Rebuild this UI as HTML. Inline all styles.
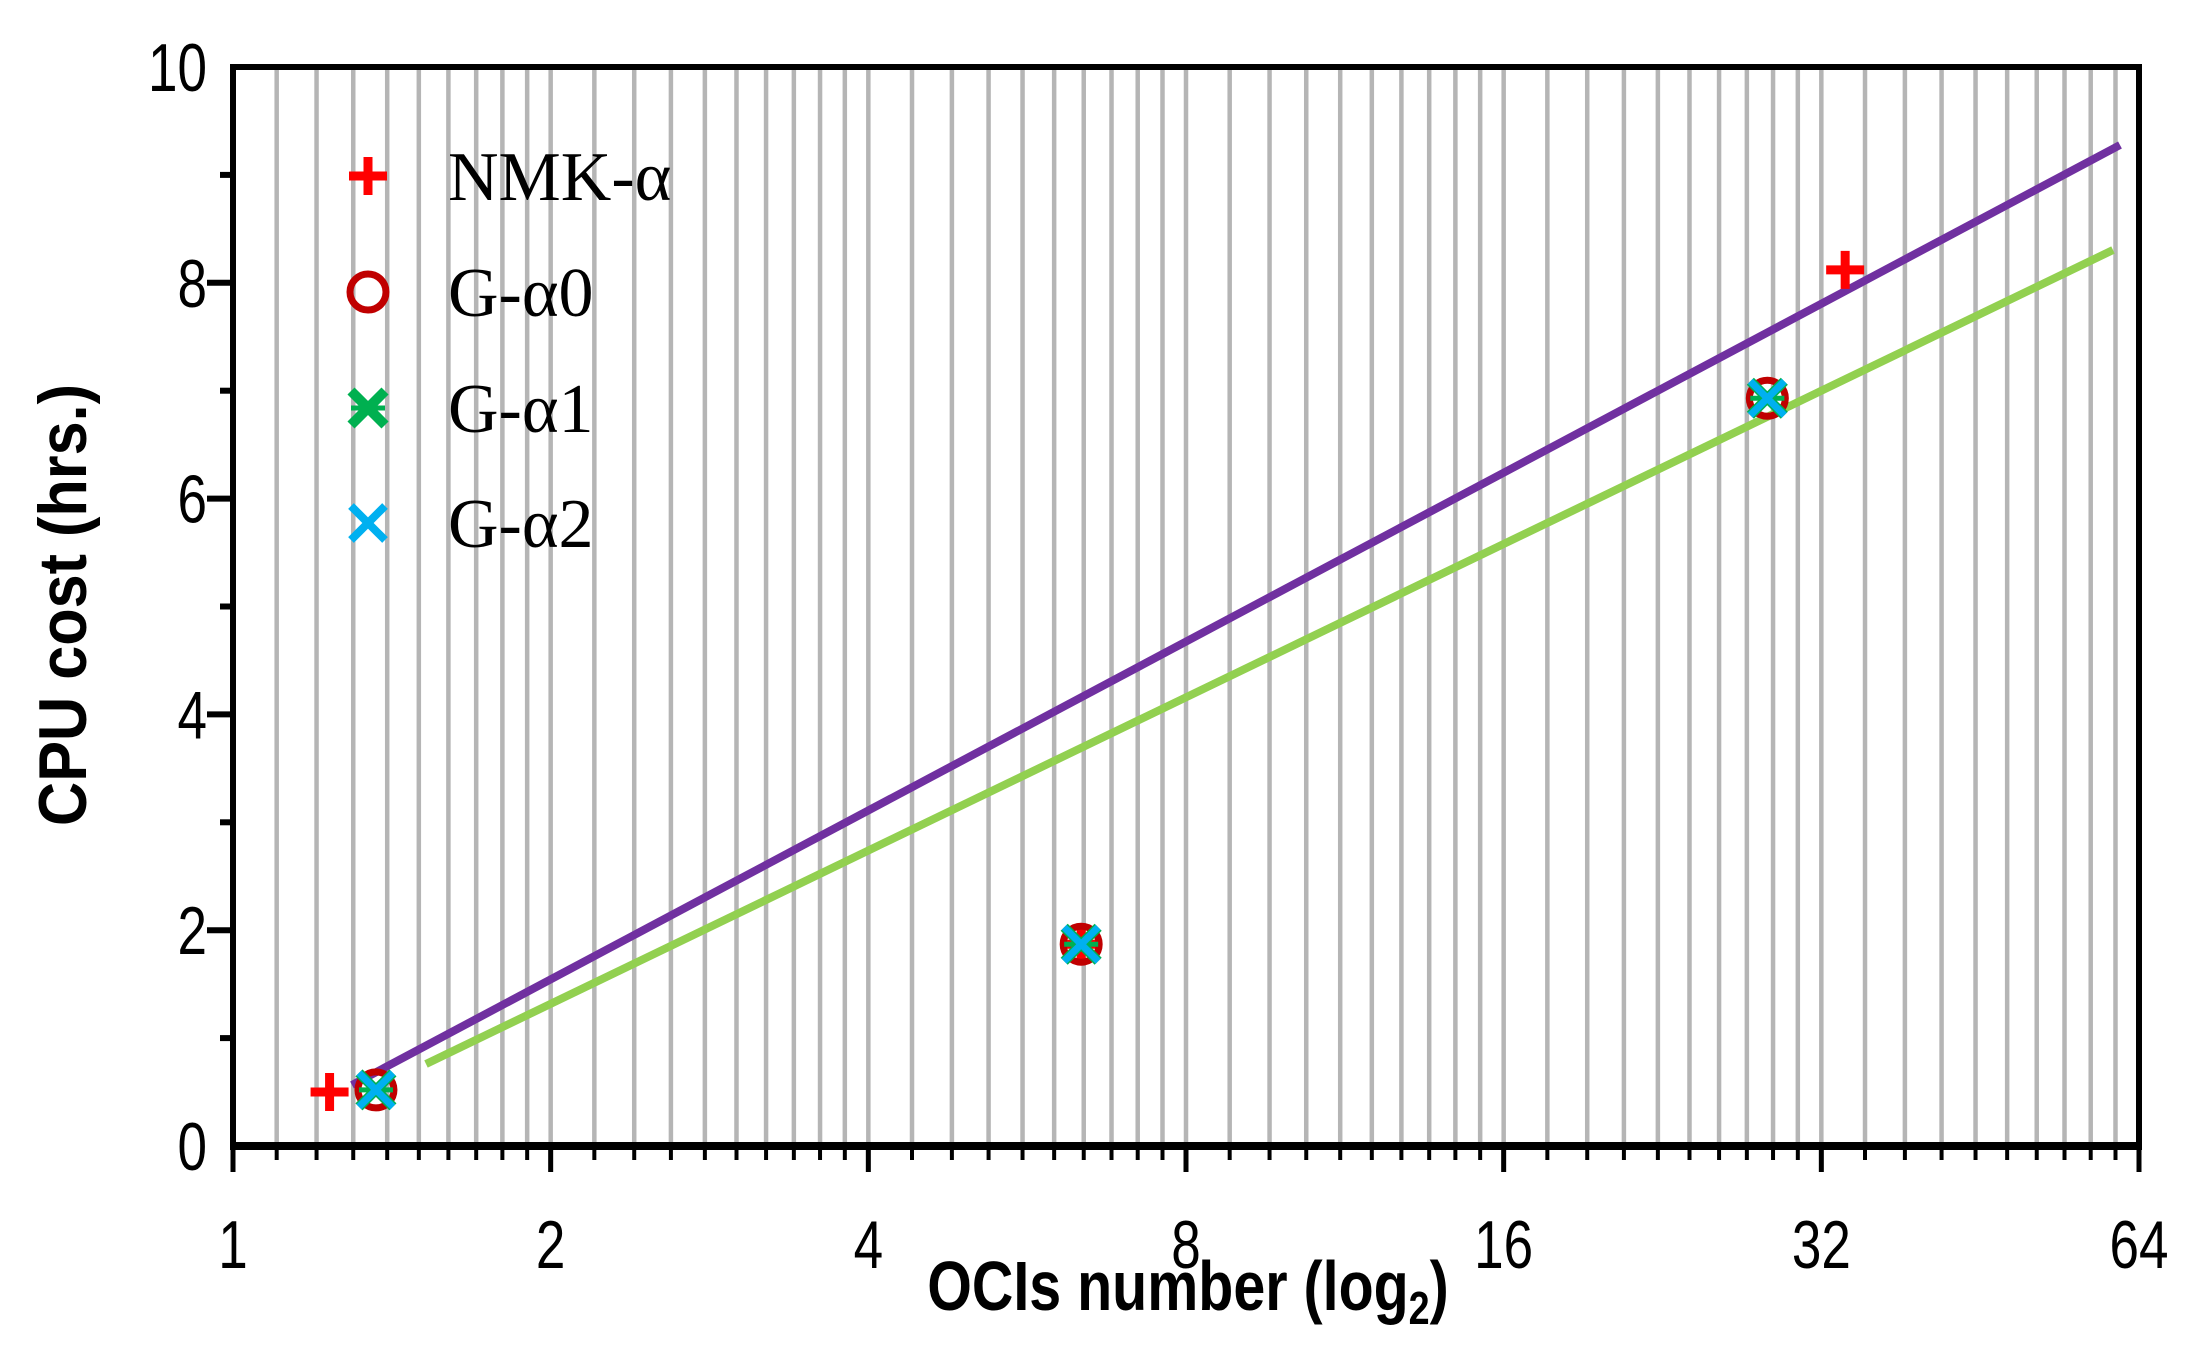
<!DOCTYPE html>
<html><head><meta charset="utf-8"><style>
html,body{margin:0;padding:0;background:#fff;}
svg{display:block;}
</style></head><body>
<svg id="s" width="2194" height="1345" viewBox="0 0 2194 1345" xmlns="http://www.w3.org/2000/svg">
<g id="grid"></g>
<g id="ticks"></g>
<rect x="233" y="67" width="1906" height="1079" fill="none" stroke="#000" stroke-width="6"/>
<line x1="230" y1="1146" x2="2142" y2="1146" stroke="#000" stroke-width="8"/>
<g font-family="'Liberation Sans',sans-serif" font-size="68" fill="#000" id="yl"></g>
<g font-family="'Liberation Sans',sans-serif" font-size="68" fill="#000" text-anchor="middle" id="xl"></g>
<text x="0" y="0" font-family="'Liberation Sans',sans-serif" font-weight="bold" font-size="70" text-anchor="middle" transform="translate(1188 1310) scale(0.82 1)">OCIs number (log<tspan font-size="46" dy="14">2</tspan><tspan dy="-14">)</tspan></text>
<text x="0" y="0" font-family="'Liberation Sans',sans-serif" font-weight="bold" font-size="68" text-anchor="middle" transform="translate(86 605) rotate(-90) scale(0.9 1)">CPU cost (hrs.)</text>
<line x1="352" y1="1085" x2="2120" y2="145" stroke="#7030a0" stroke-width="8"/>
<line x1="426" y1="1064" x2="2113" y2="250" stroke="#92d050" stroke-width="8"/>
<g id="pts"></g>
<g font-family="'Liberation Serif',serif" font-size="70" fill="#000">
<text x="448" y="200">NMK-α</text>
<text x="448" y="316">G-α0</text>
<text x="448" y="432">G-α1</text>
<text x="448" y="547">G-α2</text>
</g>
</svg>
<script>
var NS="http://www.w3.org/2000/svg";
function el(p,t,a){var e=document.createElementNS(NS,t);for(var k in a)e.setAttribute(k,a[k]);p.appendChild(e);return e;}
var L=233,R=2139,T=67,B=1146,oct=(R-L)/6,unit=(B-T)/10;
function X(v){return L+Math.log2(v)*oct;}
function Y(v){return B-v*unit;}
var g=document.getElementById('grid'),tk=document.getElementById('ticks');
for(var o=0;o<6;o++){var b=Math.pow(2,o);for(var i=1;i<=10;i++){var v=b*(1+i/10);var x=X(v);
 if(i<10||o<5)el(g,'line',{x1:x,y1:T,x2:x,y2:B,stroke:'#b5b5b5','stroke-width':4.5});
 el(tk,'line',{x1:x,y1:B,x2:x,y2:(i==10?1172:1160),stroke:'#000','stroke-width':(i==10?5:4)});}}
el(tk,'line',{x1:L,y1:B,x2:L,y2:1172,stroke:'#000','stroke-width':5});
for(var j=1;j<10;j++){var y=Y(j);el(tk,'line',{x1:(j%2?220:207),y1:y,x2:L,y2:y,stroke:'#000','stroke-width':6});}
var yl=document.getElementById('yl');
for(var k=0;k<=10;k+=2){var t=el(yl,'text',{x:0,y:0,'text-anchor':'end',transform:'translate(207 '+(Y(k)+24)+') scale(0.78 1)'});t.textContent=k;}
var xl=document.getElementById('xl');
[1,2,4,8,16,32,64].forEach(function(v){var x=X(v);var t=el(xl,'text',{x:0,y:0,transform:'translate('+x+' 1268) scale(0.78 1)'});t.textContent=v;});
var p=document.getElementById('pts');
function plus(x,y){el(p,'line',{x1:x-19,y1:y,x2:x+19,y2:y,stroke:'#ff0000','stroke-width':9});el(p,'line',{x1:x,y1:y-19,x2:x,y2:y+19,stroke:'#ff0000','stroke-width':9});}
function circ(x,y){el(p,'circle',{cx:x,cy:y,r:18,fill:'none',stroke:'#c00000','stroke-width':7});}
function cross(x,y,c,w){el(p,'line',{x1:x-17,y1:y-17,x2:x+17,y2:y+17,stroke:c,'stroke-width':w});el(p,'line',{x1:x-17,y1:y+17,x2:x+17,y2:y-17,stroke:c,'stroke-width':w});}
function star(x,y){cross(x,y,'#00b050',10);el(p,'line',{x1:x-17,y1:y,x2:x+17,y2:y,stroke:'#00b050','stroke-width':5});}
plus(X(Math.pow(2,0.304)),Y(0.5));
plus(X(Math.pow(2,2.67)),Y(1.87));
plus(X(Math.pow(2,5.075)),Y(8.12));
[[0.45,0.52],[2.67,1.87],[4.83,6.93]].forEach(function(d){var x=X(Math.pow(2,d[0])),y=Y(d[1]);circ(x,y);star(x,y);cross(x,y,'#00b0f0',7);});
plus(368,176);circ(368,292);star(368,408);cross(368,523,'#00b0f0',8);
</script>
</body></html>
